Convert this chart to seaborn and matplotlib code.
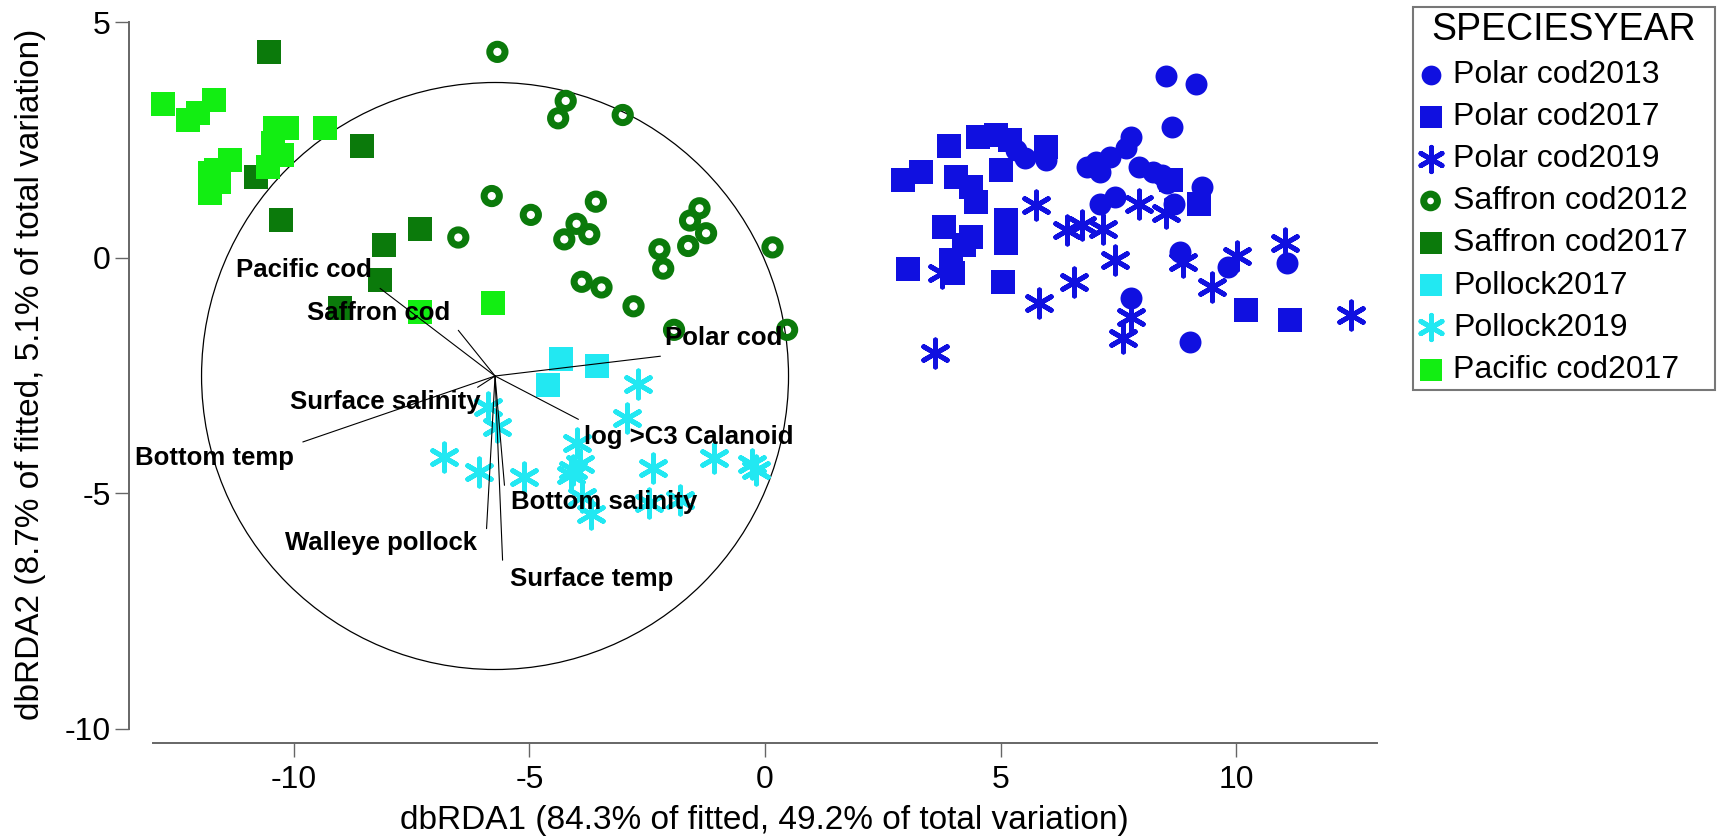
import pandas as pd
import matplotlib.pyplot as plt
import seaborn as sns
from matplotlib.patches import Circle

sns.set_style("white")
plt.rcParams['font.family'] = ['Liberation Sans', 'DejaVu Sans']
plt.rcParams['text.color'] = 'black'
plt.rcParams['axes.labelcolor'] = 'black'

# %%=============================================================================#
#  Data (read off the dbRDA ordination)
# =============================================================================#
polar13_x = [8.52, 9.14, 8.64, 7.78, 7.66, 7.32, 7.02, 6.83, 7.11, 7.93, 8.24, 8.42, 8.54,
             8.69, 9.28, 7.11, 7.42, 5.52, 5.96, 5.32, 8.80, 9.83, 11.08, 7.78, 9.03]
polar13_y = [3.86, 3.69, 2.77, 2.57, 2.32, 2.14, 2.04, 1.93, 1.83, 1.93, 1.83, 1.76, 1.58,
             1.15, 1.51, 1.15, 1.30, 2.11, 2.07, 2.29, 0.13, -0.19, -0.12, -0.86, -1.78]

polar17_x = [2.94, 3.32, 3.91, 4.52, 4.90, 5.20, 5.96, 4.06, 5.01, 4.37, 4.48, 3.80, 5.12,
             4.37, 4.22, 5.12, 3.95, 3.99, 3.04, 5.05, 10.21, 11.15, 8.61, 9.22]
polar17_y = [1.65, 1.83, 2.37, 2.57, 2.60, 2.50, 2.35, 1.72, 1.86, 1.51, 1.19, 0.66, 0.80,
             0.45, 0.27, 0.31, -0.05, -0.33, -0.23, -0.51, -1.10, -1.32, 1.65, 1.15]

polar19_x = [5.75, 6.41, 6.72, 7.17, 7.93, 8.52, 7.42, 8.88, 10.02, 11.04, 9.49, 6.57, 5.81,
             7.78, 7.59, 12.44, 3.61, 3.76]
polar19_y = [1.12, 0.59, 0.69, 0.62, 1.15, 0.94, -0.05, -0.08, 0.04, 0.31, -0.62, -0.51, -0.97,
             -1.25, -1.71, -1.22, -2.03, -0.33]

saffron12_x = [-5.68, -4.23, -4.39, -3.02, -5.80, -4.97, -6.51, -3.59, -4.00, -3.73, -4.26, -1.39,
               -1.59, -1.25, -1.63, -2.24, -2.16, 0.16, -3.89, -3.47, -2.79, -1.93, 0.47]
saffron12_y = [4.37, 3.33, 2.96, 3.03, 1.31, 0.91, 0.43, 1.19, 0.72, 0.50, 0.39, 1.05,
               0.79, 0.52, 0.25, 0.18, -0.23, 0.22, -0.51, -0.63, -1.03, -1.53, -1.53]

saffron17_x = [-10.52, -8.55, -10.80, -10.27, -8.09, -7.33, -8.18, -9.02]
saffron17_y = [4.37, 2.37, 1.72, 0.80, 0.27, 0.62, -0.47, -1.07]

pollock17_x = [-4.32, -3.57, -4.60]
pollock17_y = [-2.14, -2.29, -2.70]

pollock19_x = [-2.70, -2.93, -6.82, -6.06, -5.11, -4.07, -3.98, -3.93, -4.12, -2.37, -1.09,
               -0.28, -0.18, -3.69, -2.46, -1.80, -5.87, -5.68, -3.88]
pollock19_y = [-2.67, -3.41, -4.22, -4.54, -4.65, -4.51, -3.94, -4.37, -4.61, -4.47, -4.26,
               -4.37, -4.51, -5.43, -5.21, -5.14, -3.16, -3.59, -5.07]

pacific17_x = [-12.77, -12.25, -12.03, -11.69, -11.77, -11.77, -11.58, -11.35, -10.55, -10.25,
               -10.40, -10.14, -9.34, -7.33, -5.78, -11.65, -10.44]
pacific17_y = [3.26, 2.92, 3.07, 3.35, 1.79, 1.37, 1.61, 2.07, 1.93, 2.18,
               2.75, 2.75, 2.75, -1.15, -0.97, 1.86, 2.43]

groups = ['Polar cod2013', 'Polar cod2017', 'Polar cod2019', 'Saffron cod2012',
          'Saffron cod2017', 'Pollock2017', 'Pollock2019', 'Pacific cod2017']
xs = [polar13_x, polar17_x, polar19_x, saffron12_x, saffron17_x, pollock17_x, pollock19_x, pacific17_x]
ys = [polar13_y, polar17_y, polar19_y, saffron12_y, saffron17_y, pollock17_y, pollock19_y, pacific17_y]

# vectors (biplot) : origin, ends, label positions
vec_origin = (-5.73, -2.51)
vec_names = ['Pacific cod', 'Saffron cod', 'Surface salinity', 'Bottom temp', 'Polar cod',
             'log >C3 Calanoid', 'Bottom salinity', 'Walleye pollock', 'Surface temp']
vec_end_x = [-8.17, -6.51, -6.10, -9.81, -2.22, -3.96, -5.53, -5.91, -5.57]
vec_end_y = [-0.65, -1.54, -2.75, -3.91, -2.09, -3.43, -4.83, -5.75, -6.42]
lab_x = [-9.78, -8.20, -8.06, -11.68, -0.87, -1.61, -3.41, -8.15, -3.68]
lab_y = [-0.26, -1.18, -3.06, -4.26, -1.71, -3.80, -5.18, -6.05, -6.81]
circle_r = 6.23

# %%=============================================================================#
#  Styles
# =============================================================================#
blue = '#1010E0'
dgreen = '#0B7A0B'
cyan = '#22E8F2'
lime = '#12EE12'
styles = {
    'Polar cod2013':   dict(marker='o', color=blue, s=250, edgecolor=blue, linewidth=0),
    'Polar cod2017':   dict(marker='s', color=blue, s=300, edgecolor=blue, linewidth=0),
    'Polar cod2019':   dict(marker=(6, 2, 0), color=blue, s=380, linewidth=3.5),
    'Saffron cod2012': dict(marker='o', facecolor='none', edgecolor=dgreen, s=121, linewidth=5),
    'Saffron cod2017': dict(marker='s', color=dgreen, s=300, edgecolor=dgreen, linewidth=0),
    'Pollock2017':     dict(marker='s', color=cyan, s=300, edgecolor=cyan, linewidth=0),
    'Pollock2019':     dict(marker=(6, 2, 0), color=cyan, s=380, linewidth=3.5),
    'Pacific cod2017': dict(marker='s', color=lime, s=300, edgecolor=lime, linewidth=0),
}

W, H = 1717, 836
fig = plt.figure(figsize=(W / 100, H / 100), dpi=100)
ax = fig.add_axes([129 / W, 1 - 743 / H, 1271 / W, 738 / H])

for name, gx, gy in zip(groups, xs, ys):
    df = pd.DataFrame({'x': gx, 'y': gy})
    sns.scatterplot(data=df, x='x', y='y', ax=ax, label=name, legend=False,
                    zorder=3, **styles[name])

# correlation circle + vectors
ax.add_patch(Circle(vec_origin, circle_r, fill=False, lw=0.9, ec='black', zorder=2))
for name, ex, ey, tx, ty in zip(vec_names, vec_end_x, vec_end_y, lab_x, lab_y):
    ax.plot([vec_origin[0], ex], [vec_origin[1], ey], color='black', lw=0.8, zorder=4)
    ax.text(tx, ty, name, fontsize=18.5, fontweight='bold', color='black',
            ha='center', va='center', zorder=5)

ax.set_xlim(-13.5, 13.48)
ax.set_ylim(-10.30, 5.365)
ax.set_xticks([-10, -5, 0, 5, 10])
ax.set_yticks([-10, -5, 0, 5])
ax.set_xticklabels(['-10', '-5', '0', '5', '10'])
ax.set_yticklabels(['-10', '-5', '0', '5'])

sns.despine(ax=ax)
for sp in ['left', 'bottom']:
    ax.spines[sp].set_color('#666666')
    ax.spines[sp].set_linewidth(1.4)
ax.spines['left'].set_bounds(-10, 5)
ax.spines['bottom'].set_bounds(-13, 13)
ax.tick_params(axis='both', bottom=True, left=True, length=10, width=1.0, color='#666666',
               labelsize=23, labelcolor='black')
ax.tick_params(axis='x', pad=5.5)
ax.tick_params(axis='y', pad=3)

ax.set_xlabel('dbRDA1 (84.3% of fitted, 49.2% of total variation)', fontsize=24)
ax.set_ylabel('dbRDA2 (8.7% of fitted, 5.1% of total variation)', fontsize=24)
ax.xaxis.set_label_coords(0.5, -0.084)
ax.yaxis.set_label_coords(-0.0655, 0.5)

leg = ax.legend(title='SPECIESYEAR', loc='upper left',
                bbox_to_anchor=(1413 / W, 1 - 7 / H - 0.5, 302 / W, 0.5),
                bbox_transform=fig.transFigure, mode='expand', borderaxespad=0,
                fontsize=23, title_fontsize=27, frameon=True, fancybox=False,
                edgecolor='#555555', borderpad=0.15, handlelength=0.8, handletextpad=0.3,
                labelspacing=0.38, markerscale=0.9)
leg.get_frame().set_linewidth(1.5)

fig.savefig('out.png', dpi=100)
